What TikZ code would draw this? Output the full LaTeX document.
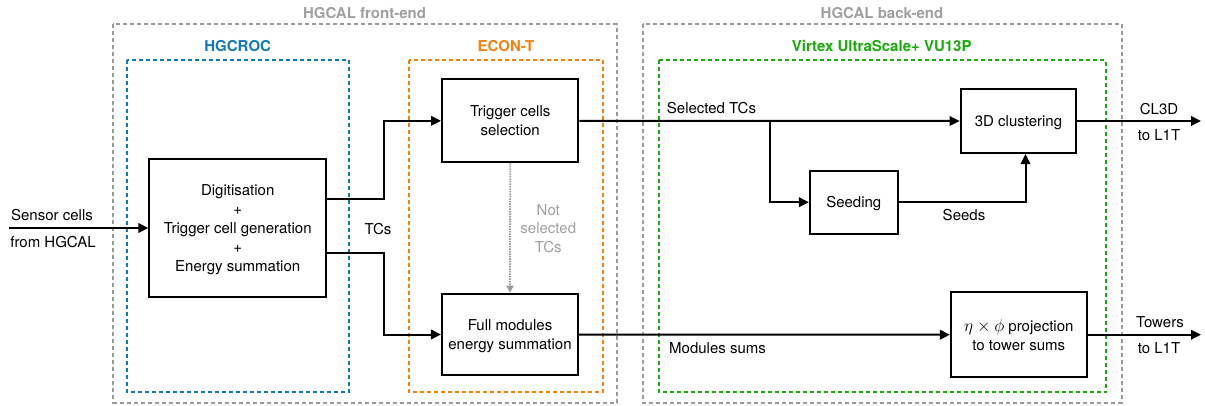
\documentclass[tikz,border=0pt]{standalone}
\usepackage{fontspec}
\setmainfont{TeX Gyre Heros}
\usetikzlibrary{arrows.meta,calc}
\definecolor{fgray}{RGB}{155,155,155}
\definecolor{tgray}{RGB}{160,160,160}
\definecolor{hblue}{RGB}{16,122,192}
\definecolor{horange}{RGB}{247,128,15}
\definecolor{hgreen}{RGB}{25,172,10}
\tikzset{
  box/.style={draw, line width=2.1pt, align=center, inner sep=0pt, text depth=0pt, font=\fontsize{15}{19}\selectfont},
  lbl/.style={align=center, inner sep=0pt, font=\fontsize{15}{19}\selectfont},
  ttl/.style={inner sep=0pt, font=\fontsize{15}{18}\selectfont\bfseries},
  frame/.style={line width=2pt, dash pattern=on 4pt off 3pt},
  arr/.style={line width=2pt, -{Triangle[length=10pt,width=9.5pt]}},
}
\begin{document}
\begin{tikzpicture}[x=1pt,y=-1pt]
\useasboundingbox (0,0) rectangle (1205,405);
% frames
\draw[frame, fgray] (113,24.3) rectangle (616.7,402.7);
\draw[frame, fgray] (642.5,24.3) rectangle (1121.7,402.7);
\draw[frame, hblue] (126.7,60.3) rectangle (348.7,392.3);
\draw[frame, horange] (409.3,60.3) rectangle (603.3,392.3);
\draw[frame, hgreen] (658.5,60.3) rectangle (1105.7,392.3);
% titles
\node[ttl, text=tgray] (tfront) at (364.5,12.7) {HGCAL front-end};
\node[ttl, text=tgray] (tback) at (882,12.7) {HGCAL back-end};
\node[ttl, text=hblue] (thgcroc) at (237.7,45.7) {HGCROC};
\node[ttl, text=horange] (tecon) at (506,45.7) {ECON-T};
\node[ttl, text=hgreen] (tvirtex) at (881.7,45.7) {Virtex UltraScale+ VU13P};
% boxes
\node[box, minimum width=176.7pt, minimum height=137.4pt] (digit) at (237.7,228) {Digitisation\\+\\Trigger cell generation\\+\\Energy summation};
\node[box, minimum width=136.3pt, minimum height=83pt] (trig) at (510.2,120.8) {Trigger cells\\selection};
\node[box, minimum width=136pt, minimum height=81.6pt] (full) at (510,334.5) {Full modules\\energy summation};
\node[box, minimum width=115.6pt, minimum height=64pt] (clus) at (1018.5,121) {3D clustering};
\node[box, minimum width=87.7pt, minimum height=63pt] (seed) at (853.8,202.2) {Seeding};
\node[box, minimum width=135.7pt, minimum height=84.7pt] (eta) at (1018.8,334.7) {{\fontsize{18}{19}\selectfont$\eta\times\phi$} projection\\to tower sums};
% labels
\node[lbl] (lsensor) at (52,215) {Sensor cells};
\node[lbl] (lfrom) at (53,242) {from HGCAL};
\node[lbl] (ltcs) at (378,229) {TCs};
\node[lbl, text=tgray, font=\fontsize{15}{18.3}\selectfont] (lnot) at (548.3,228.5) {Not\\selected\\TCs};
\node[lbl, anchor=west] (lsel) at (666.7,107.7) {Selected TCs};
\node[lbl] (lseeds) at (964,214.7) {Seeds};
\node[lbl, anchor=west] (lmod) at (669,347.7) {Modules sums};
\node[lbl] (lcl3d) at (1159,109) {CL3D};
\node[lbl] (ll1ta) at (1159,135) {to L1T};
\node[lbl] (ltow) at (1160,322) {Towers};
\node[lbl] (ll1tb) at (1159,348.3) {to L1T};
% coordinates
\coordinate (in) at (9,228);
\coordinate (br) at (770,121);
\coordinate (out1) at (1201,121);
\coordinate (out2) at (1201,334.7);
% connectors
\draw[arr] (in) -- (digit.west);
\draw[arr] ([yshift=29pt]digit.east) -- ++(57.3,0) |- (trig.west);
\draw[arr] ([yshift=-25pt]digit.east) -- ++(57.3,0) |- (full.west);
\draw[arr] (trig.east) -- (clus.west);
\draw[arr] (br) |- (seed.west);
\draw[arr] (seed.east) -| ([xshift=7pt]clus.south);
\draw[arr] (full.east) -- (eta.west);
\draw[arr] (clus.east) -- (out1);
\draw[arr] (eta.east) -- (out2);
\draw[line width=1.8pt, fgray, dash pattern=on 1.4pt off 1.1pt, -{Triangle[length=7pt,width=7pt]}] (trig.south) -- (full.north);
\end{tikzpicture}
\end{document}
